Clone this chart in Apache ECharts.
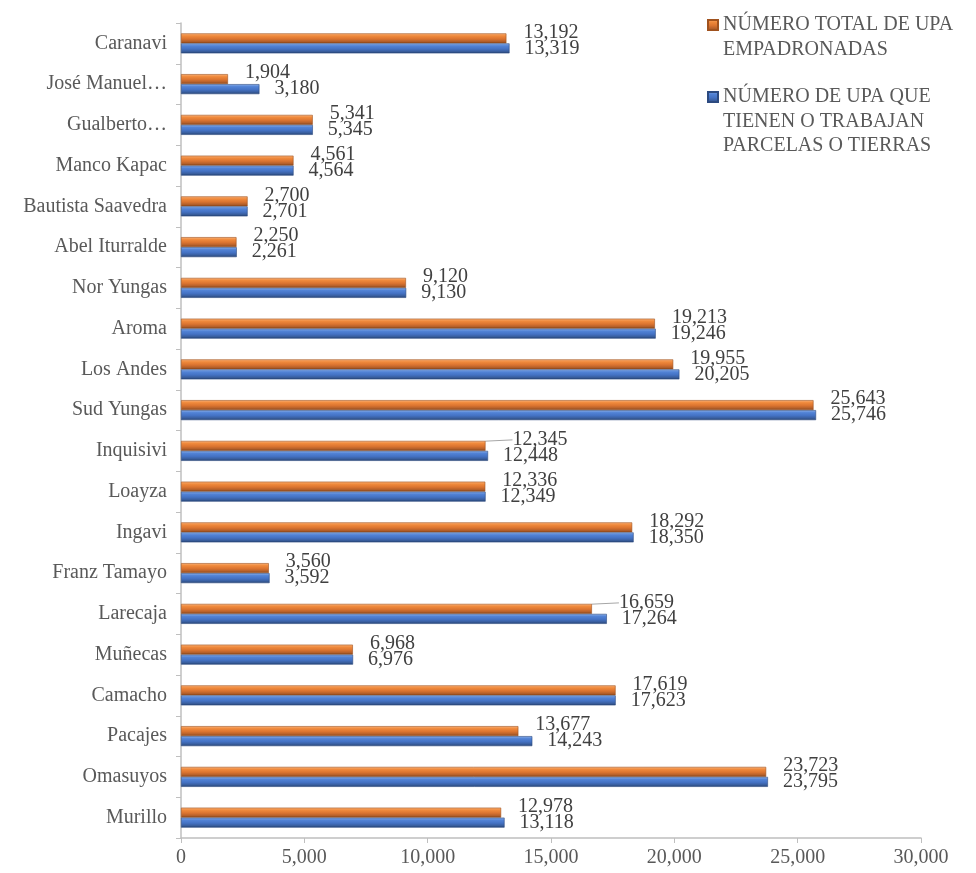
<!DOCTYPE html>
<html>
<head>
<meta charset="utf-8">
<script src="https://cdn.jsdelivr.net/npm/echarts@6/dist/echarts.min.js"></script>
<style>
  html, body { margin: 0; padding: 0; background: #fff; }
  #chart { width: 976px; height: 873px; }
</style>
</head>
<body>
<div id="chart"></div>
<script>
// provincias, de abajo hacia arriba
const provincias = ['Murillo', 'Omasuyos', 'Pacajes', 'Camacho', 'Muñecas', 'Larecaja',
  'Franz Tamayo', 'Ingavi', 'Loayza', 'Inquisivi', 'Sud Yungas', 'Los Andes', 'Aroma',
  'Nor Yungas', 'Abel Iturralde', 'Bautista Saavedra', 'Manco Kapac', 'Gualberto…',
  'José Manuel…', 'Caranavi'];
// número total de UPA empadronadas
const totalUpa = [12978, 23723, 13677, 17619, 6968, 16659, 3560, 18292, 12336, 12345,
  25643, 19955, 19213, 9120, 2250, 2700, 4561, 5341, 1904, 13192];
// número de UPA que tienen o trabajan parcelas o tierras
const upaParcelas = [13118, 23795, 14243, 17623, 6976, 17264, 3592, 18350, 12349, 12448,
  25746, 20205, 19246, 9130, 2261, 2701, 4564, 5345, 3180, 13319];
// eje de valores
const ejeMin = 0, ejeMax = 30000, ejePaso = 5000;

const nombreTotal = 'NÚMERO TOTAL DE UPA EMPADRONADAS';
const nombreParcelas = 'NÚMERO DE UPA QUE TIENEN O TRABAJAN PARCELAS O TIERRAS';

// etiquetas desplazadas con línea guía (Larecaja, Inquisivi)
const etiquetasMovidas = { 5: 10, 9: 10 };

const fuente = '"Liberation Serif", "Times New Roman", serif';
const lh = 24.5;

const naranja = new echarts.graphic.LinearGradient(0, 0, 0, 1, [
  { offset: 0, color: '#F9B27A' },
  { offset: 0.25, color: '#F08A3C' },
  { offset: 0.55, color: '#DB7430' },
  { offset: 0.8, color: '#B5602A' },
  { offset: 1, color: '#7F4016' }
]);
const azul = new echarts.graphic.LinearGradient(0, 0, 0, 1, [
  { offset: 0, color: '#8DB0E8' },
  { offset: 0.25, color: '#5283D6' },
  { offset: 0.55, color: '#4472C4' },
  { offset: 0.8, color: '#395E9E' },
  { offset: 1, color: '#24406F' }
]);

const fmt = (p) => p.value.toLocaleString('en-US');

const chart = echarts.init(document.getElementById('chart'), null, { renderer: 'canvas' });

chart.setOption({
  animation: false,
  textStyle: { fontFamily: fuente },
  grid: { left: 181, right: 55, top: 23, bottom: 35, containLabel: false },
  legend: [
    {
      data: [nombreTotal],
      left: 707, top: 25 - 1.5 * lh, padding: 0,
      icon: 'rect', itemWidth: 10, itemHeight: 10,
      formatter: () => '\nNÚMERO TOTAL DE UPA\nEMPADRONADAS',
      textStyle: { fontFamily: fuente, fontSize: 20, color: '#595959', lineHeight: lh }
    },
    {
      data: [nombreParcelas],
      left: 707, top: 97 - 2.5 * lh, padding: 0,
      icon: 'rect', itemWidth: 10, itemHeight: 10,
      formatter: () => '\n\nNÚMERO DE UPA QUE\nTIENEN O TRABAJAN\nPARCELAS O TIERRAS',
      textStyle: { fontFamily: fuente, fontSize: 20, color: '#595959', lineHeight: lh }
    }
  ],
  xAxis: {
    type: 'value',
    min: ejeMin, max: ejeMax, interval: ejePaso,
    splitLine: { show: false },
    axisLine: { show: true, lineStyle: { color: '#BFBFBF', width: 1.5 } },
    axisTick: { show: true, length: 5, lineStyle: { color: '#BFBFBF' } },
    axisLabel: {
      fontFamily: fuente, fontSize: 20, color: '#595959', margin: 10,
      formatter: (v) => v.toLocaleString('en-US')
    }
  },
  yAxis: {
    type: 'category',
    data: provincias,
    axisLine: { show: true, lineStyle: { color: '#BFBFBF', width: 1.5 } },
    axisTick: { show: true, length: 5, alignWithLabel: false, lineStyle: { color: '#BFBFBF' } },
    axisLabel: { fontFamily: fuente, fontSize: 20, color: '#595959', margin: 14 }
  },
  series: [
    {
      name: nombreTotal,
      type: 'bar',
      data: totalUpa.map((v, i) => etiquetasMovidas[i]
        ? { value: v, labelLine: { show: true } }
        : v),
      barWidth: 10,
      barGap: '0%',
      itemStyle: { color: naranja, borderColor: '#A0521E', borderWidth: 0.6 },
      label: {
        show: true, position: 'right', distance: 17,
        fontFamily: fuente, fontSize: 20, color: '#404040', formatter: fmt
      },
      labelLine: { show: false, lineStyle: { color: '#A6A6A6', width: 1 } },
      labelLayout: (p) => ({ dx: etiquetasMovidas[p.dataIndex] || 0, dy: -6 })
    },
    {
      name: nombreParcelas,
      type: 'bar',
      data: upaParcelas,
      barWidth: 10,
      barGap: '0%',
      itemStyle: { color: azul, borderColor: '#2C4A80', borderWidth: 0.6 },
      label: {
        show: true, position: 'right', distance: 15,
        fontFamily: fuente, fontSize: 20, color: '#404040', formatter: fmt
      }
    }
  ]
});
</script>
</body>
</html>
